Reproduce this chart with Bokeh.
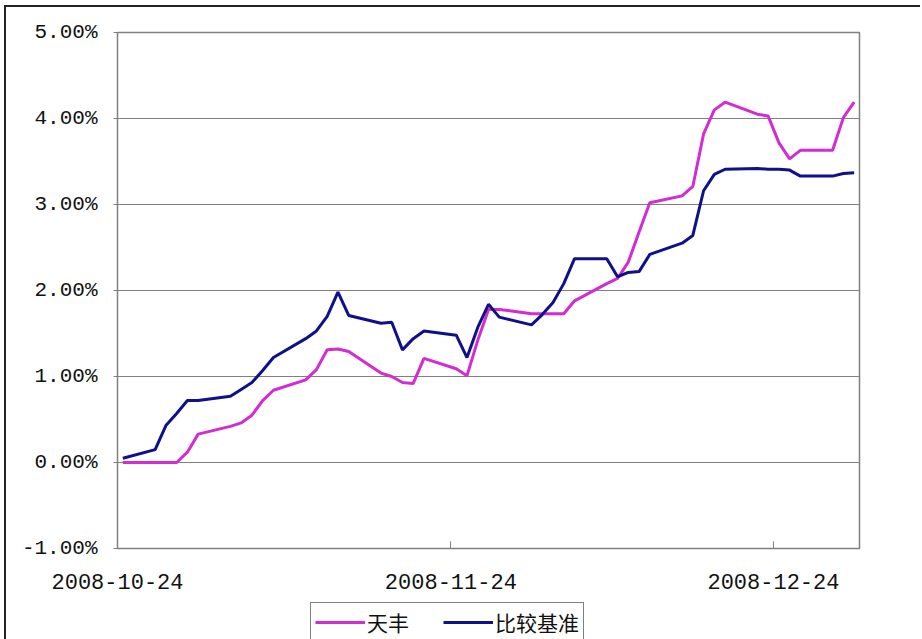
import pandas as pd
from bokeh.plotting import figure
from bokeh.layouts import column
from bokeh.models import (FixedTicker, Legend, LegendItem, Range1d,
                          PrintfTickFormatter)
from bokeh.embed import file_html
from bokeh.resources import INLINE

dates = ["2008-10-24", "2008-10-27", "2008-10-28", "2008-10-29", "2008-10-30", "2008-10-31",
         "2008-11-03", "2008-11-04", "2008-11-05", "2008-11-06", "2008-11-07",
         "2008-11-10", "2008-11-11", "2008-11-12", "2008-11-13", "2008-11-14",
         "2008-11-17", "2008-11-18", "2008-11-19", "2008-11-20", "2008-11-21",
         "2008-11-24", "2008-11-25", "2008-11-26", "2008-11-27", "2008-11-28",
         "2008-12-01", "2008-12-02", "2008-12-03", "2008-12-04", "2008-12-05",
         "2008-12-08", "2008-12-09", "2008-12-10", "2008-12-11", "2008-12-12",
         "2008-12-15", "2008-12-16", "2008-12-17", "2008-12-18", "2008-12-19",
         "2008-12-22", "2008-12-23", "2008-12-24", "2008-12-25", "2008-12-26",
         "2008-12-29", "2008-12-30", "2008-12-31"]

tianfeng = [0.00, 0.00, 0.00, 0.00, 0.12, 0.33,
            0.42, 0.46, 0.55, 0.72, 0.84,
            0.96, 1.08, 1.31, 1.32, 1.29,
            1.04, 1.00, 0.93, 0.92, 1.21,
            1.09, 1.01, 1.42, 1.78, 1.78,
            1.73, 1.73, 1.73, 1.73, 1.88,
            2.08, 2.14, 2.33, 2.68, 3.02,
            3.10, 3.21, 3.82, 4.10, 4.19,
            4.05, 4.03, 3.72, 3.53, 3.63,
            3.63, 4.01, 4.19]

benchmark = [0.05, 0.15, 0.43, 0.57, 0.72, 0.72,
             0.77, 0.85, 0.93, 1.07, 1.22,
             1.44, 1.53, 1.70, 1.98, 1.71,
             1.62, 1.63, 1.31, 1.44, 1.53,
             1.48, 1.22, 1.57, 1.84, 1.69,
             1.60, 1.72, 1.86, 2.08, 2.37,
             2.37, 2.16, 2.21, 2.22, 2.42,
             2.55, 2.64, 3.16, 3.35, 3.41,
             3.42, 3.41, 3.41, 3.40, 3.33,
             3.33, 3.36, 3.37]

x_tick_labels = ["2008-10-24", "2008-11-24", "2008-12-24"]
y_ticks = [-1, 0, 1, 2, 3, 4, 5]
series_names = ["天丰", "比较基准"]
colors = ["#D22CD2", "#10108A"]

start = pd.Timestamp(dates[0])
axis_end = pd.Timestamp("2009-01-01")
xs = [(pd.Timestamp(d) - start).days + 0.5 for d in dates]
x_ticks = [(pd.Timestamp(d) - start).days for d in x_tick_labels]

W = 914
p = figure(width=W, height=593, output_backend="svg", toolbar_location=None,
           x_range=Range1d(0, (axis_end - start).days), y_range=Range1d(-1, 5),
           min_border_left=111, min_border_right=61, min_border_top=25,
           min_border_bottom=52)
p.frame_align = False

p.background_fill_color = "white"
p.border_fill_color = "white"
p.outline_line_color = "#808080"
p.outline_line_width = 1.5

grey = "#808080"
mono = "Liberation Mono"

p.xgrid.grid_line_color = None
p.ygrid.grid_line_color = grey
p.ygrid.grid_line_width = 1.2
p.ygrid.ticker = FixedTicker(ticks=y_ticks)

p.yaxis.ticker = FixedTicker(ticks=y_ticks)
p.yaxis.formatter = PrintfTickFormatter(format="%.2f%%")
p.yaxis.axis_line_color = None
p.yaxis.major_tick_line_color = grey
p.yaxis.major_tick_out = 4
p.yaxis.major_tick_in = 0
p.yaxis.minor_tick_line_color = None
p.yaxis.major_label_standoff = 16
p.yaxis.major_label_text_font = mono
p.yaxis.major_label_text_font_size = "21px"
p.yaxis.major_label_text_color = "#111111"

p.xaxis.ticker = FixedTicker(ticks=x_ticks)
p.xaxis.major_label_overrides = {t: lab for t, lab in zip(x_ticks, x_tick_labels)}
p.xaxis.axis_line_color = None
p.xaxis.major_tick_line_color = grey
p.xaxis.major_tick_in = 7
p.xaxis.major_tick_out = 0
p.xaxis.minor_tick_line_color = None
p.xaxis.major_label_standoff = 25
p.xaxis.major_label_text_font = mono
p.xaxis.major_label_text_font_size = "22px"
p.xaxis.major_label_text_color = "#111111"

p.line(xs, tianfeng, line_color=colors[0], line_width=3)
p.line(xs, benchmark, line_color=colors[1], line_width=3)

# legend strip below the chart (its ranges keep the series out of view;
# only the legend samples of these renderers are seen)
p2 = figure(width=W, height=39, output_backend="svg", toolbar_location=None,
            x_range=Range1d(0, 1), y_range=Range1d(100, 101),
            x_axis_location=None, y_axis_location=None,
            min_border_left=302, min_border_right=0, min_border_top=0,
            min_border_bottom=0)
p2.frame_align = False
p2.grid.grid_line_color = None
p2.outline_line_color = None
p2.background_fill_color = "white"
p2.border_fill_color = "white"
k1 = p2.line(xs, tianfeng, line_color=colors[0], line_width=3)
k2 = p2.line(xs, benchmark, line_color=colors[1], line_width=3)

legend = Legend(items=[LegendItem(label=series_names[0], renderers=[k1]),
                       LegendItem(label=series_names[1], renderers=[k2])],
                orientation="horizontal", location="top_left",
                border_line_color="#000000", border_line_width=1.5,
                background_fill_color="white", background_fill_alpha=1.0,
                label_text_font="Noto Sans CJK SC", label_text_font_size="21px",
                label_text_color="#111111",
                glyph_width=50, glyph_height=22, label_height=22,
                label_standoff=2, spacing=34, padding=4, margin=2)
p2.add_layout(legend, "center")

page = column(p, p2, spacing=0, margin=(5, 0, 0, 4),
              styles={"border-left": "2px solid #222", "border-top": "2px solid #222"})

open("out.html", "w").write(file_html(page, INLINE))
